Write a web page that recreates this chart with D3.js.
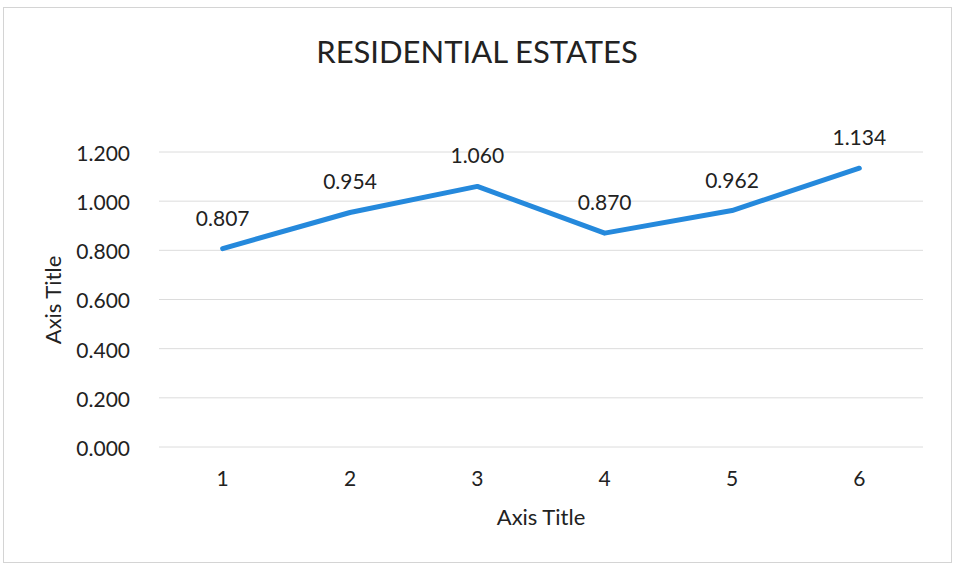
<!DOCTYPE html>
<html>
<head>
<meta charset="utf-8">
<script src="https://cdn.jsdelivr.net/npm/d3@7"></script>
<style>
  html, body { margin: 0; padding: 0; background: #fff; }
  svg { display: block; font-family: Lato, "Open Sans", sans-serif; }
</style>
</head>
<body>
<svg id="chart" width="955" height="564"></svg>
<script>
// Series data
const categories = ["1", "2", "3", "4", "5", "6"];
const values = [0.807, 0.954, 1.060, 0.870, 0.962, 1.134];
const yTicks = [0, 0.2, 0.4, 0.6, 0.8, 1.0, 1.2];
const chartTitle = "RESIDENTIAL ESTATES";
const xAxisTitle = "Axis Title";
const yAxisTitle = "Axis Title";

const svg = d3.select("#chart");
const W = 955, H = 564;
const margin = { top: 152, right: 32, bottom: 117, left: 159 };
const innerW = W - margin.left - margin.right;
const innerH = H - margin.top - margin.bottom;

// Chart area border
svg.append("rect")
  .attr("x", 3.5).attr("y", 7.5)
  .attr("width", W - 7).attr("height", H - 9)
  .attr("fill", "#fff")
  .attr("stroke", "#d4d4d4").attr("stroke-width", 1);

const g = svg.append("g").attr("transform", `translate(${margin.left},${margin.top})`);

const x = d3.scaleBand().domain(categories).range([0, innerW]);
const y = d3.scaleLinear().domain([0, 1.2]).range([innerH, 0]);

// Horizontal gridlines
g.append("g")
  .selectAll("line")
  .data(yTicks)
  .join("line")
  .attr("x1", 0).attr("x2", innerW)
  .attr("y1", d => y(d)).attr("y2", d => y(d))
  .attr("stroke", "#dcdcdc").attr("stroke-width", 1);

// Y axis labels
const yAxis = g.append("g")
  .call(d3.axisLeft(y).tickValues(yTicks).tickFormat(d3.format(".3f")).tickSize(0).tickPadding(29));
yAxis.select(".domain").remove();
yAxis.selectAll("text")
  .attr("fill", "#222").attr("dy", "0.4em")
  .style("font-size", "21px").style("font-family", "Lato, sans-serif");

// X axis labels
const xAxis = g.append("g")
  .attr("transform", `translate(0,${innerH})`)
  .call(d3.axisBottom(x).tickSize(0).tickPadding(24));
xAxis.select(".domain").remove();
xAxis.selectAll("text")
  .attr("fill", "#222").style("font-size", "21px").style("font-family", "Lato, sans-serif");

// Series line
const line = d3.line()
  .x((d, i) => x(categories[i]) + x.bandwidth() / 2)
  .y(d => y(d));

g.append("path")
  .datum(values)
  .attr("d", line)
  .attr("fill", "none")
  .attr("stroke", "#2589dc")
  .attr("stroke-width", 5)
  .attr("stroke-linejoin", "round")
  .attr("stroke-linecap", "round");

// Data labels
g.append("g")
  .selectAll("text")
  .data(values)
  .join("text")
  .attr("x", (d, i) => x(categories[i]) + x.bandwidth() / 2)
  .attr("y", d => y(d) - 23)
  .attr("text-anchor", "middle")
  .attr("fill", "#222")
  .style("font-size", "21px")
  .text(d => d3.format(".3f")(d));

// Chart title
svg.append("text")
  .attr("x", 477).attr("y", 63)
  .attr("text-anchor", "middle")
  .attr("fill", "#222")
  .style("font-size", "31px")
  .text(chartTitle);

// X axis title
svg.append("text")
  .attr("x", 541).attr("y", 525)
  .attr("text-anchor", "middle")
  .attr("fill", "#222")
  .style("font-size", "22px")
  .text(xAxisTitle);

// Y axis title
svg.append("text")
  .attr("transform", "translate(61,300) rotate(-90)")
  .attr("text-anchor", "middle")
  .attr("fill", "#222")
  .style("font-size", "22px")
  .text(yAxisTitle);
</script>
</body>
</html>
